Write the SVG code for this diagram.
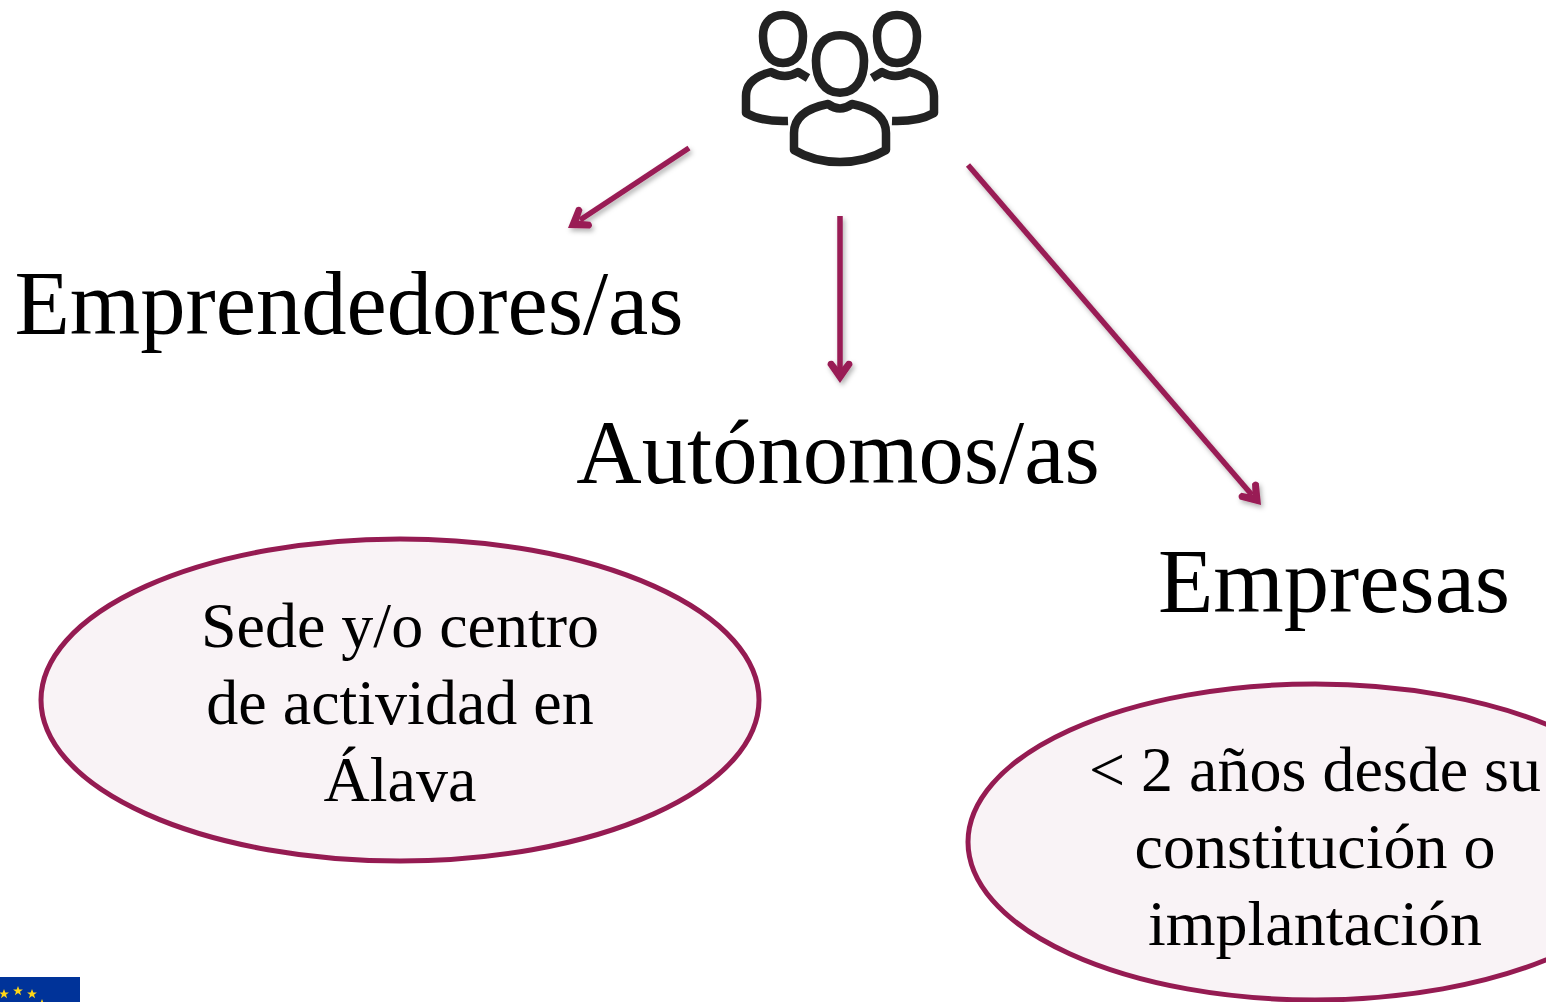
<svg xmlns="http://www.w3.org/2000/svg" width="1546" height="1002" viewBox="0 0 1546 1002">
<style>
.t{font-family:"Liberation Serif","Times New Roman",serif;fill:#000;text-anchor:middle}
.big{font-size:90.6px}
.small{font-size:64px}
.ell{fill:#f9f3f6;stroke:#951b52;stroke-width:5}
.icon{fill:none;stroke:#222;stroke-width:8.5;stroke-linejoin:round}
.arrow{filter:url(#sh)}
.line{fill:none;stroke:#991b54;stroke-width:5.5;stroke-linecap:butt}
.head{fill:#991b54}
.star{fill:#ffd617}
</style>
<defs>
<filter id="sh" x="-30%" y="-30%" width="160%" height="160%"><feDropShadow dx="2" dy="3" stdDeviation="2.5" flood-color="#000" flood-opacity="0.3"/></filter>
<path id="s" d="M0,-5 1.3,-1.6 4.9,-1.6 2,0.7 3.1,4.2 0,2.1 -3.1,4.2 -2,0.7 -4.9,-1.6 -1.3,-1.6Z"/>
<path id="h" d="M0,0 L-12.5,-18 Q-12.5,-23 -7,-22 L0,-13 L7,-22 Q12.5,-23 12.5,-18Z"/>
<path id="hd" d="M-20,-3 C-20,-16 -12,-24 0,-24 C12,-24 20,-16 20,-3 C20,13 13,24 0,24 C-13,24 -20,13 -20,-3Z"/>
</defs>
<rect width="1546" height="1002" fill="#fff"/>
<g id="connectors">
<g class="arrow"><path class="line" d="M689,148 L580,220"/><use href="#h" class="head" transform="translate(568,228) rotate(56.6)"/></g>
<g class="arrow"><path class="line" d="M840,216 L840,372"/><use href="#h" class="head" transform="translate(840,383)"/></g>
<g class="arrow"><path class="line" d="M968,165 L1252,495"/><use href="#h" class="head" transform="translate(1261,505) rotate(-40.5)"/></g>
</g>
<g id="icon-people">
<use href="#hd" class="icon" x="783" y="39"/>
<use href="#hd" class="icon" x="897" y="39"/>
<use href="#hd" class="icon" transform="translate(840,64) scale(1.2)" style="stroke-width:7.2"/>
<path class="icon" d="M828,104 Q840,113 852,104 C872,108 886,116 886,133 L886,150 Q866,162 840,162 Q814,162 794,150 L794,133 C794,116 808,108 828,104Z"/>
<path class="icon" d="M808,78 L798,72 Q785,80 771,72 C755,76 746,84 746,96 L746,113 Q762,122 788,121"/>
<path class="icon" d="M872,78 L882,72 Q895,80 909,72 C925,76 934,84 934,96 L934,113 Q918,122 892,121"/>
</g>
<g id="label-emprendedores"><text class="t big" x="349" y="333.5">Emprendedores/as</text></g>
<g id="label-autonomos"><text class="t big" x="838" y="482.5">Autónomos/as</text></g>
<g id="label-empresas"><text class="t big" x="1334" y="611.5">Empresas</text></g>
<g id="node-sede">
<ellipse class="ell" cx="400" cy="700" rx="359" ry="161"/>
<text class="t small" x="400" y="647">Sede y/o centro</text>
<text class="t small" x="400" y="724">de actividad en</text>
<text class="t small" x="400" y="801">Álava</text>
</g>
<g id="node-anos">
<ellipse class="ell" cx="1315" cy="842" rx="347" ry="158"/>
<text class="t small" x="1315" y="791">&lt; 2 años desde su</text>
<text class="t small" x="1315" y="868">constitución o</text>
<text class="t small" x="1315" y="945">implantación</text>
</g>
<g id="eu-flag">
<rect x="0" y="977" width="80" height="25" fill="#003399"/>
<use href="#s" class="star" x="4" y="994"/>
<use href="#s" class="star" x="18" y="991"/>
<use href="#s" class="star" x="32" y="994"/>
<use href="#s" class="star" x="42" y="1004"/>
</g>
</svg>
